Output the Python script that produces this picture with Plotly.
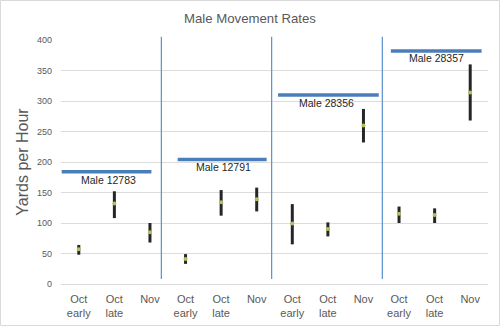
import plotly.graph_objects as go

# ---- data ----
periods = ["Oct<br>early", "Oct<br>late", "Nov"]
males = ["Male 12783", "Male 12791", "Male 28356", "Male 28357"]
male_level = [184, 204, 310, 382]
mean_rate = [57, 132, 85, 41, 134, 139, 99, 90, 260, 115, 113, 314]
upper_rate = [64, 152, 100, 49, 154, 158, 131, 101, 287, 127, 124, 360]
lower_rate = [48, 108, 68, 33, 112, 119, 65, 78, 232, 100, 100, 268]
y_ticks = [0, 50, 100, 150, 200, 250, 300, 350, 400]

# ---- derived ----
n = len(mean_rate)
xs = list(range(n))
tick_text = [periods[i % len(periods)] for i in range(n)]
err_plus = [u - m for u, m in zip(upper_rate, mean_rate)]
err_minus = [m - l for m, l in zip(mean_rate, lower_rate)]

fig = go.Figure()
fig.add_trace(go.Scatter(
    x=xs, y=mean_rate, mode="markers",
    marker=dict(symbol="circle", size=4, color="#a9c45a"),
    error_y=dict(type="data", symmetric=False, array=err_plus, arrayminus=err_minus,
                 thickness=3, width=0, color="#262626"),
    showlegend=False, hoverinfo="skip",
))

grey = "#595959"
shapes = []
annotations = []

# horizontal male level bars and labels
bar_spans = [(-0.48, 2.04), (2.78, 5.28), (5.6, 8.43), (8.77, 11.32)]
label_x = [0.84, 4.08, 6.96, 10.05]
label_offset = [-13.5, -12, -13, -12]
for (x0, x1), lvl, name, lx, off in zip(bar_spans, male_level, males, label_x, label_offset):
    shapes.append(dict(type="line", xref="x", yref="y", x0=x0, x1=x1, y0=lvl, y1=lvl,
                       line=dict(color="#4a7ebb", width=3.5)))
    annotations.append(dict(x=lx, y=lvl + off, xref="x", yref="y", text=name, showarrow=False,
                            font=dict(family="Liberation Sans", size=10.5, color="#1f1f1f"),
                            yanchor="middle", xanchor="center"))

# vertical separators
for sx in [2.32, 5.42, 8.53]:
    shapes.append(dict(type="line", xref="x", yref="paper", x0=sx, x1=sx, y0=0.02, y1=1.013,
                       line=dict(color="#5b8fcb", width=1.2)))

# chart border
W, H, L, R, T, B = 500, 326, 61, 12, 40, 42
pw, ph = W - L - R, H - T - B
shapes.append(dict(type="rect", xref="paper", yref="paper",
                   x0=(-L + 0.5) / pw, x1=(pw + R - 0.5) / pw,
                   y0=(-B + 0.5) / ph, y1=(ph + T - 0.5) / ph,
                   line=dict(color="#d9d9d9", width=1), layer="below"))

fig.update_layout(
    width=W, height=H,
    margin=dict(l=L, r=R, t=T, b=B, autoexpand=False),
    paper_bgcolor="white", plot_bgcolor="white",
    title=dict(text="Male Movement Rates", x=0.5, xref="container", y=1 - 18.5 / H,
               yref="container", xanchor="center", yanchor="middle",
               font=dict(family="Liberation Sans", size=13.2, color=grey)),
    shapes=shapes, annotations=annotations,
    xaxis=dict(range=[-0.5, n - 0.5], tickvals=xs, ticktext=tick_text, showgrid=False,
               zeroline=False, showline=False, ticks="", ticklabelstandoff=7, automargin=False,
               tickfont=dict(family="Liberation Sans", size=11, color=grey)),
    yaxis=dict(range=[0, 400], tickvals=y_ticks, showgrid=True, gridcolor="#dcdcdc",
               gridwidth=1, zeroline=True, zerolinecolor="#d9d9d9", zerolinewidth=1,
               ticks="", ticklabelstandoff=8, automargin=False,
               tickfont=dict(family="Liberation Sans", size=9, color=grey),
               title=dict(text="Yards per Hour", standoff=4,
                          font=dict(family="Liberation Sans", size=16, color=grey))),
)

fig.write_html("out.html")
